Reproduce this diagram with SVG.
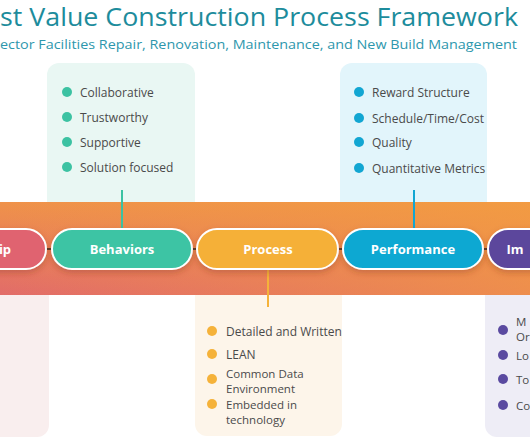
<svg xmlns="http://www.w3.org/2000/svg" width="530" height="442" viewBox="0 0 530 442">
<defs>
<linearGradient id="bandV" x1="0" y1="0" x2="0" y2="1">
<stop offset="0" stop-color="#ef924a"/>
<stop offset="1" stop-color="#e26c69"/>
</linearGradient>
<linearGradient id="bandH" x1="0" y1="0" x2="1" y2="0">
<stop offset="0" stop-color="#f4a03e" stop-opacity="0"/>
<stop offset="1" stop-color="#f4a03e" stop-opacity="0.65"/>
</linearGradient>
<filter id="sh" x="-20%" y="-30%" width="140%" height="170%">
<feDropShadow dx="0" dy="3" stdDeviation="3" flood-color="#7a2a1a" flood-opacity="0.3"/>
</filter>
</defs>
<style>
.title{font-family:"Open Sans","Noto Sans",sans-serif;fill:#1d8c9c}
.sub{font-family:"Open Sans","Noto Sans",sans-serif;fill:#2e97ad;font-size:13.5px}
.pill{stroke:#ffffff;stroke-width:2;filter:url(#sh)}
.pl{font-family:"Open Sans","Noto Sans",sans-serif;font-weight:bold;font-size:13px;fill:#ffffff;text-anchor:middle}
.it{font-family:"Open Sans","Noto Sans",sans-serif;font-size:12px;fill:#4a4a4a}
.it2{font-family:"Open Sans","Noto Sans",sans-serif;font-size:11.5px;fill:#4a4a4a}
.con{stroke-width:2;fill:none}
</style>
<rect width="530" height="442" fill="#ffffff"/>
<text class="title" x="0" y="26" font-size="26" textLength="518" lengthAdjust="spacingAndGlyphs">st Value Construction Process Framework</text>
<text class="sub" x="0" y="49" textLength="517" lengthAdjust="spacingAndGlyphs">ector Facilities Repair, Renovation, Maintenance, and New Build Management</text>

<g id="box-behaviors">
<rect x="47" y="63" width="148" height="160" rx="12" fill="#e9f7f3"/>
<circle cx="67" cy="92" r="5" fill="#3cc2a2"/><text class="it" x="80" y="96.5">Collaborative</text>
<circle cx="67" cy="117" r="5" fill="#3cc2a2"/><text class="it" x="80" y="121.5">Trustworthy</text>
<circle cx="67" cy="142" r="5" fill="#3cc2a2"/><text class="it" x="80" y="146.5">Supportive</text>
<circle cx="67" cy="167" r="5" fill="#3cc2a2"/><text class="it" x="80" y="171.5">Solution focused</text>
</g>
<g id="box-performance">
<rect x="340" y="63" width="147" height="160" rx="12" fill="#e2f5fb"/>
<circle cx="359" cy="92" r="5" fill="#12a6d2"/><text class="it" x="372" y="96.5">Reward Structure</text>
<circle cx="359" cy="118" r="5" fill="#12a6d2"/><text class="it" x="372" y="122.5">Schedule/Time/Cost</text>
<circle cx="359" cy="142" r="5" fill="#12a6d2"/><text class="it" x="372" y="146.5">Quality</text>
<circle cx="359" cy="168" r="5" fill="#12a6d2"/><text class="it" x="372" y="172.5">Quantitative Metrics</text>
</g>
<g id="box-leadership">
<rect x="-20" y="275" width="69" height="162" rx="12" fill="#f9eeee"/>
</g>
<g id="box-process">
<rect x="195" y="275" width="147" height="161" rx="12" fill="#fdf5ea"/>
<circle cx="212" cy="331" r="5" fill="#f5b23a"/><text class="it" x="226" y="335.5">Detailed and Written</text>
<circle cx="212" cy="354" r="5" fill="#f5b23a"/><text class="it" x="226" y="358.5">LEAN</text>
<circle cx="212" cy="379" r="5" fill="#f5b23a"/><text class="it2" x="226" y="377.5">Common Data<tspan x="226" dy="15">Environment</tspan></text>
<circle cx="212" cy="404" r="5" fill="#f5b23a"/><text class="it2" x="226" y="408.5">Embedded in<tspan x="226" dy="15">technology</tspan></text>
</g>
<g id="box-impact">
<rect x="485" y="275" width="70" height="162" rx="12" fill="#eeedf6"/>
<circle cx="503" cy="330" r="5" fill="#5a4aa0"/><text class="it2" x="516" y="325.5">M<tspan x="516" dy="15">Or</tspan></text>
<circle cx="503" cy="355" r="5" fill="#5a4aa0"/><text class="it2" x="516" y="359.5">Lo</text>
<circle cx="503" cy="379" r="5" fill="#5a4aa0"/><text class="it2" x="516" y="383.5">To</text>
<circle cx="503" cy="405" r="5" fill="#5a4aa0"/><text class="it2" x="516" y="409.5">Co</text>
</g>

<g id="band">
<rect x="0" y="202" width="530" height="93" fill="url(#bandV)"/>
<rect x="0" y="202" width="530" height="93" fill="url(#bandH)"/>
</g>

<g id="connectors">
<line class="con" x1="122" y1="190" x2="122" y2="230" stroke="#3cc2a2"/>
<line class="con" x1="414" y1="190" x2="414" y2="230" stroke="#12a6d2"/>
<line class="con" x1="268" y1="268" x2="268" y2="307" stroke="#f5b23a"/>
<line x1="46" y1="249" x2="53" y2="249" stroke="#5a3a2a" stroke-width="2"/>
<line x1="192" y1="249" x2="198" y2="249" stroke="#5a3a2a" stroke-width="2"/>
<line x1="338" y1="249" x2="344" y2="249" stroke="#5a3a2a" stroke-width="2"/>
<line x1="483" y1="249" x2="489" y2="249" stroke="#5a3a2a" stroke-width="2"/>
</g>

<g id="node-leadership">
<rect class="pill" x="-100" y="229" width="146" height="40" rx="20" fill="#e0636f"/>
<text class="pl" x="5" y="253.5">ip</text>
</g>
<g id="node-behaviors">
<rect class="pill" x="52" y="229" width="140" height="40" rx="20" fill="#3cc4a4"/>
<text class="pl" x="122" y="253.5">Behaviors</text>
</g>
<g id="node-process">
<rect class="pill" x="197" y="229" width="141" height="40" rx="20" fill="#f5b038"/>
<text class="pl" x="268" y="253.5">Process</text>
</g>
<g id="node-performance">
<rect class="pill" x="343" y="229" width="140" height="40" rx="20" fill="#10a8d2"/>
<text class="pl" x="413" y="253.5">Performance</text>
</g>
<g id="node-impact">
<rect class="pill" x="488" y="229" width="140" height="40" rx="20" fill="#5b479c"/>
<text class="pl" x="515" y="253.5" text-anchor="start">Im</text>
</g>
</svg>
